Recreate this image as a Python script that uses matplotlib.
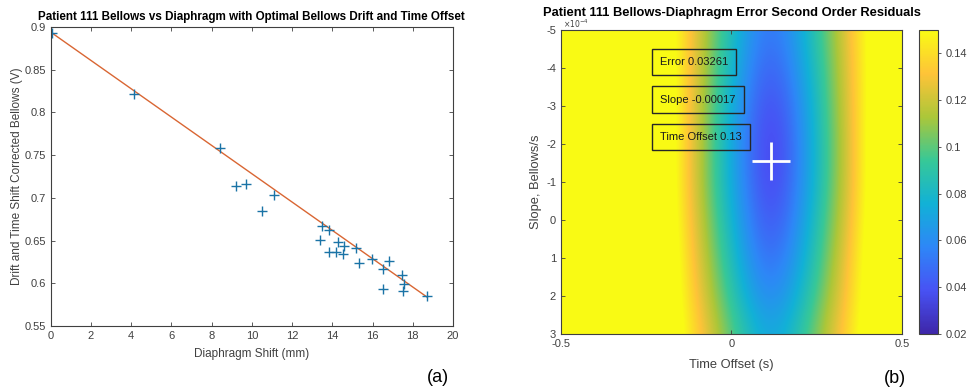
import numpy as np
import matplotlib
matplotlib.use('Agg')
from matplotlib import pyplot as plt
from matplotlib.colors import LinearSegmentedColormap
from matplotlib.ticker import FormatStrFormatter

plt.rcParams['font.family'] = ['Liberation Sans', 'DejaVu Sans']
plt.rcParams['axes.unicode_minus'] = False

# (a) diaphragm shift vs corrected bellows
shift_mm = [0.05, 4.15, 8.4, 9.2, 9.7, 11.1, 10.5, 13.5, 13.85, 13.4, 14.27, 14.6, 13.85,
            14.19, 14.52, 15.18, 15.31, 15.95, 16.83, 16.53, 17.44, 17.54, 17.52, 16.5, 18.7]
bellows_v = [0.893, 0.821, 0.758, 0.714, 0.716, 0.703, 0.685, 0.667, 0.662, 0.651, 0.648,
             0.644, 0.637, 0.637, 0.634, 0.641, 0.624, 0.629, 0.626, 0.617, 0.610, 0.599,
             0.591, 0.593, 0.585]
fit_x = [0.0, 18.7]
fit_y = [0.894, 0.584]

# (b) residual error grid, rows = slope (x1e-4), cols = time offset (s)
slopes = [-5, -4, -3, -2, -1, 0, 1, 2, 3]
offsets = [-0.5, -0.45, -0.4, -0.35, -0.3, -0.25, -0.2, -0.15, -0.1, -0.05, 0.0,
           0.05, 0.1, 0.15, 0.2, 0.25, 0.3, 0.35, 0.4, 0.45, 0.5]
err_grid = [
    [0.2, 0.2, 0.2, 0.2, 0.2, 0.185, 0.164, 0.144, 0.123, 0.103, 0.084, 0.065, 0.053, 0.057, 0.072, 0.091, 0.111, 0.132, 0.152, 0.173, 0.193],
    [0.2, 0.2, 0.2, 0.2, 0.2, 0.188, 0.166, 0.143, 0.122, 0.100, 0.079, 0.059, 0.046, 0.050, 0.067, 0.087, 0.108, 0.130, 0.152, 0.174, 0.197],
    [0.2, 0.2, 0.2, 0.2, 0.2, 0.190, 0.167, 0.143, 0.120, 0.097, 0.074, 0.053, 0.039, 0.043, 0.061, 0.083, 0.106, 0.129, 0.152, 0.176, 0.2],
    [0.2, 0.2, 0.2, 0.2, 0.2, 0.192, 0.167, 0.143, 0.119, 0.095, 0.071, 0.050, 0.035, 0.039, 0.058, 0.081, 0.104, 0.128, 0.153, 0.177, 0.2],
    [0.2, 0.2, 0.2, 0.2, 0.2, 0.191, 0.167, 0.143, 0.119, 0.095, 0.072, 0.051, 0.036, 0.040, 0.059, 0.081, 0.105, 0.128, 0.153, 0.177, 0.2],
    [0.2, 0.2, 0.2, 0.2, 0.2, 0.192, 0.169, 0.145, 0.122, 0.099, 0.077, 0.056, 0.042, 0.046, 0.064, 0.086, 0.108, 0.131, 0.155, 0.178, 0.2],
    [0.2, 0.2, 0.2, 0.2, 0.2, 0.192, 0.170, 0.148, 0.126, 0.104, 0.083, 0.063, 0.050, 0.054, 0.071, 0.091, 0.113, 0.135, 0.157, 0.179, 0.2],
    [0.2, 0.2, 0.2, 0.2, 0.2, 0.191, 0.170, 0.150, 0.130, 0.110, 0.090, 0.072, 0.060, 0.064, 0.079, 0.098, 0.118, 0.138, 0.158, 0.179, 0.199],
    [0.2, 0.2, 0.2, 0.2, 0.2, 0.190, 0.172, 0.154, 0.136, 0.118, 0.100, 0.084, 0.073, 0.076, 0.090, 0.107, 0.125, 0.143, 0.161, 0.179, 0.198],
]
best_offset = 0.115
best_slope = -1.55
best_error_txt = 'Error 0.03261'
best_slope_txt = 'Slope -0.00017'
best_offset_txt = 'Time Offset 0.13'

parula = LinearSegmentedColormap.from_list('parula', [
    (0.2422, 0.1504, 0.6603), (0.2810, 0.3228, 0.9571), (0.1786, 0.5289, 0.9682),
    (0.0689, 0.6948, 0.8394), (0.2161, 0.7843, 0.5923), (0.6720, 0.7793, 0.2227),
    (0.9970, 0.7659, 0.2199), (0.9769, 0.9839, 0.0805)])

grey = (0.25, 0.25, 0.25)
fig = plt.figure(figsize=(9.68, 3.9), dpi=100)

def matlab_axes(ax):
    for s in ax.spines.values():
        s.set_color(grey)
        s.set_linewidth(0.8)
    ax.tick_params(direction='in', top=True, right=True, labelsize=8, colors=grey,
                   length=3, width=0.6)

# ---- (a)
ax1 = fig.add_axes([0.0524, 0.1641, 0.4156, 0.7667])
ax1.plot(fit_x, fit_y, color=(0.85, 0.4, 0.2), lw=1)
ax1.plot(shift_mm, bellows_v, '+', color=(0.1, 0.45, 0.65), ms=7, mew=1)
ax1.set_xlim(0, 20)
ax1.set_ylim(0.55, 0.9)
ax1.set_xticks(np.arange(0, 21, 2))
ax1.set_yticks(np.arange(0.55, 0.91, 0.05))
ax1.yaxis.set_major_formatter(FormatStrFormatter('%g'))
matlab_axes(ax1)
ax1.set_xlabel('Diaphragm Shift (mm)', fontsize=8.5, color=grey, labelpad=5)
ax1.set_ylabel('Drift and Time Shift Corrected Bellows (V)', fontsize=8.5, color=grey, labelpad=1)
ax1.set_title('Patient 111 Bellows vs Diaphragm with Optimal Bellows Drift and Time Offset',
              fontsize=8.4, fontweight='bold', pad=5)
fig.text(0.452, 0.033, '(a)', fontsize=13, ha='center', va='center')

# ---- (b)
ax2 = fig.add_axes([0.5795, 0.1436, 0.3523, 0.7795])
dt = offsets[1] - offsets[0]
ds = slopes[1] - slopes[0]
im = ax2.imshow(np.array(err_grid), cmap=parula, vmin=0.02, vmax=0.15, aspect='auto',
                interpolation='bicubic', origin='upper',
                extent=[offsets[0] - dt / 2, offsets[-1] + dt / 2, slopes[-1] + ds / 2, slopes[0] - ds / 2])
ax2.set_xlim(-0.5, 0.5)
ax2.set_ylim(3, -5)
ax2.set_xticks([-0.5, 0, 0.5])
ax2.set_yticks(slopes)
ax2.xaxis.set_major_formatter(FormatStrFormatter('%g'))
matlab_axes(ax2)
ax2.plot([best_offset], [best_slope], '+', color='white', ms=28, mew=2)
for yy, txt in [(-4.16, best_error_txt), (-3.17, best_slope_txt), (-2.18, best_offset_txt)]:
    ax2.text(-0.21, yy, txt, fontsize=8, color=(0.1, 0.1, 0.1), va='center', ha='left',
             bbox=dict(boxstyle='square,pad=0.75', fc='none', ec=(0.15, 0.15, 0.15), lw=1))
ax2.set_xlabel('Time Offset (s)', fontsize=9.3, color=grey, labelpad=7)
ax2.set_ylabel('Slope, Bellows/s', fontsize=9.3, color=grey, labelpad=3)
ax2.text(0.005, 1.0, r'$\times10^{-4}$', transform=ax2.transAxes, fontsize=5.5, color=grey,
         va='bottom', ha='left')
ax2.set_title('Patient 111 Bellows-Diaphragm Error Second Order Residuals',
              fontsize=9.3, fontweight='bold', pad=10)
fig.text(0.925, 0.03, '(b)', fontsize=13, ha='center', va='center')

cax = fig.add_axes([0.9494, 0.1436, 0.0196, 0.7795])
cb = fig.colorbar(im, cax=cax)
cb.set_ticks([0.02, 0.04, 0.06, 0.08, 0.1, 0.12, 0.14])
cb.ax.yaxis.set_major_formatter(FormatStrFormatter('%g'))
cb.outline.set_edgecolor(grey)
cb.outline.set_linewidth(0.8)
cb.ax.tick_params(labelsize=8, colors=grey, direction='out', length=2, width=0.6)

fig.savefig('out.png', dpi=100)
